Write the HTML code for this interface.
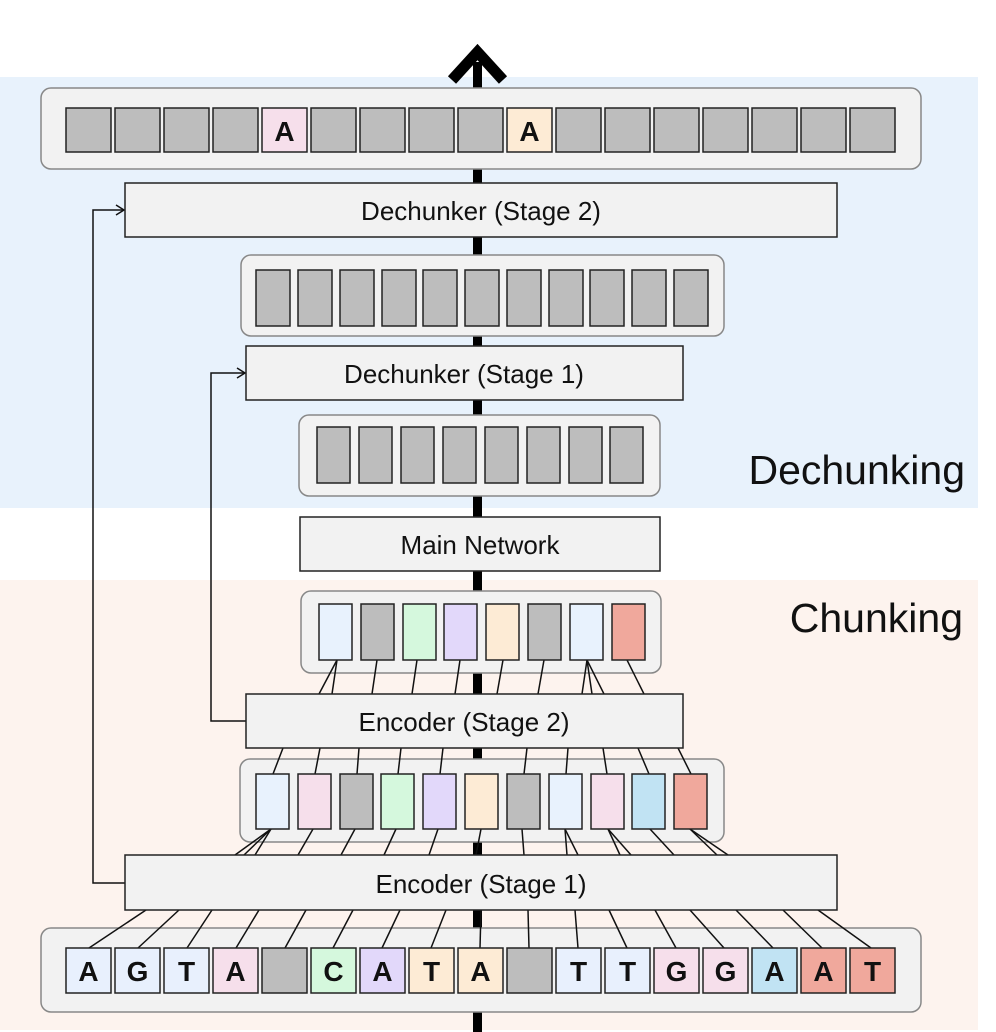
<!DOCTYPE html>
<html><head><style>
html,body{margin:0;padding:0;background:#fff;}
svg{display:block;}
text{font-family:"Liberation Sans","DejaVu Sans",sans-serif;}
</style></head><body>
<svg width="996" height="1032" viewBox="0 0 996 1032" xmlns="http://www.w3.org/2000/svg">
<rect x="0" y="77" width="978" height="431" fill="#e8f2fc"/>
<rect x="0" y="580" width="978" height="450" fill="#fdf3ee"/>
<!-- spine -->
<rect x="473" y="62" width="9" height="970" fill="#000"/>
<polyline points="452,80 477.5,52 503,80" fill="none" stroke="#000" stroke-width="11"/>

<!-- containers -->
<g fill="#f2f2f2" stroke="#888" stroke-width="1.5">
<rect x="41" y="88" width="880" height="81" rx="10"/>
<rect x="241" y="255" width="483" height="81" rx="10"/>
<rect x="299" y="415" width="361" height="81" rx="10"/>
<rect x="301" y="591" width="360" height="82" rx="10"/>
<rect x="240" y="759" width="484" height="83" rx="10"/>
<rect x="41" y="928" width="880" height="84" rx="10"/>
</g>

<g stroke="#111" stroke-width="1.5" fill="none">
<!-- feedback lines -->
<polyline points="125,883 93,883 93,210 123,210"/>
<polyline points="116,205 124,210 116,215"/>
<polyline points="246,721 211,721 211,373 244,373"/>
<polyline points="237,368 245,373 237,378"/>
<!-- bottom cells to encoder1 -->
<line x1="89" y1="948" x2="146" y2="910"/><line x1="138" y1="948" x2="179" y2="910"/>
<line x1="187" y1="948" x2="212" y2="910"/><line x1="236" y1="948" x2="259" y2="910"/>
<line x1="285" y1="948" x2="306" y2="910"/><line x1="333" y1="948" x2="353" y2="910"/>
<line x1="382" y1="948" x2="400" y2="910"/><line x1="431" y1="948" x2="446" y2="910"/>
<line x1="480" y1="948" x2="481" y2="910"/><line x1="529" y1="948" x2="528" y2="910"/>
<line x1="578" y1="948" x2="575" y2="910"/><line x1="627" y1="948" x2="609" y2="910"/>
<line x1="676" y1="948" x2="655" y2="910"/><line x1="724" y1="948" x2="690" y2="910"/>
<line x1="773" y1="948" x2="736" y2="910"/><line x1="822" y1="948" x2="783" y2="910"/>
<line x1="871" y1="948" x2="818" y2="910"/>
<!-- container5 cells to encoder1 top -->
<line x1="271" y1="829" x2="235" y2="855"/><line x1="271" y1="829" x2="244" y2="855"/><line x1="271" y1="829" x2="255" y2="855"/>
<line x1="313" y1="829" x2="298" y2="855"/><line x1="355" y1="829" x2="341" y2="855"/>
<line x1="396" y1="829" x2="384" y2="855"/><line x1="438" y1="829" x2="429" y2="855"/>
<line x1="481" y1="829" x2="476" y2="855"/><line x1="522" y1="829" x2="524" y2="855"/>
<line x1="565" y1="829" x2="567" y2="855"/><line x1="565" y1="829" x2="578" y2="855"/>
<line x1="608" y1="829" x2="620" y2="855"/><line x1="608" y1="829" x2="631" y2="855"/>
<line x1="650" y1="829" x2="674" y2="855"/>
<line x1="690" y1="829" x2="717" y2="855"/><line x1="690" y1="829" x2="728" y2="855"/>
<!-- encoder2 bottom to container5 -->
<line x1="283" y1="748" x2="273" y2="774"/><line x1="320" y1="748" x2="315" y2="774"/>
<line x1="359" y1="748" x2="357" y2="774"/><line x1="401" y1="748" x2="398" y2="774"/>
<line x1="443" y1="748" x2="440" y2="774"/><line x1="527" y1="748" x2="524" y2="774"/>
<line x1="568" y1="748" x2="566" y2="774"/><line x1="603" y1="748" x2="607" y2="774"/>
<line x1="638" y1="748" x2="649" y2="774"/><line x1="678" y1="748" x2="691" y2="774"/>
<!-- container4 to encoder2 top -->
<line x1="337" y1="660" x2="319" y2="694"/><line x1="337" y1="660" x2="332" y2="694"/>
<line x1="377" y1="660" x2="372" y2="694"/><line x1="417" y1="660" x2="412" y2="694"/>
<line x1="460" y1="660" x2="455" y2="694"/><line x1="503" y1="660" x2="497" y2="694"/>
<line x1="544" y1="660" x2="538" y2="694"/>
<line x1="587" y1="660" x2="582" y2="694"/><line x1="587" y1="660" x2="592" y2="694"/><line x1="587" y1="660" x2="604" y2="694"/>
<line x1="627" y1="660" x2="644" y2="694"/>
</g>

<!-- boxes -->
<g fill="#f2f2f2" stroke="#222" stroke-width="1.5">
<rect x="125" y="183" width="712" height="54"/>
<rect x="246" y="346" width="437" height="54"/>
<rect x="300" y="517" width="360" height="54"/>
<rect x="246" y="694" width="437" height="54"/>
<rect x="125" y="855" width="712" height="55"/>
</g>
<g font-size="26" text-anchor="middle" fill="#111">
<text x="481" y="220">Dechunker (Stage 2)</text>
<text x="464" y="383">Dechunker (Stage 1)</text>
<text x="480" y="554">Main Network</text>
<text x="464" y="731">Encoder (Stage 2)</text>
<text x="481" y="893">Encoder (Stage 1)</text>
</g>
<text x="965" y="484" font-size="41" text-anchor="end" fill="#111">Dechunking</text>
<text x="963" y="632" font-size="41" text-anchor="end" fill="#111">Chunking</text>

<g stroke="#222" stroke-width="1.5">
<!-- top row -->
<rect x="66" y="108" width="45" height="44" fill="#bdbdbd"/>
<rect x="115" y="108" width="45" height="44" fill="#bdbdbd"/>
<rect x="164" y="108" width="45" height="44" fill="#bdbdbd"/>
<rect x="213" y="108" width="45" height="44" fill="#bdbdbd"/>
<rect x="262" y="108" width="45" height="44" fill="#f6dfeb"/>
<rect x="311" y="108" width="45" height="44" fill="#bdbdbd"/>
<rect x="360" y="108" width="45" height="44" fill="#bdbdbd"/>
<rect x="409" y="108" width="45" height="44" fill="#bdbdbd"/>
<rect x="458" y="108" width="45" height="44" fill="#bdbdbd"/>
<rect x="507" y="108" width="45" height="44" fill="#fdebd5"/>
<rect x="556" y="108" width="45" height="44" fill="#bdbdbd"/>
<rect x="605" y="108" width="45" height="44" fill="#bdbdbd"/>
<rect x="654" y="108" width="45" height="44" fill="#bdbdbd"/>
<rect x="703" y="108" width="45" height="44" fill="#bdbdbd"/>
<rect x="752" y="108" width="45" height="44" fill="#bdbdbd"/>
<rect x="801" y="108" width="45" height="44" fill="#bdbdbd"/>
<rect x="850" y="108" width="45" height="44" fill="#bdbdbd"/>
<!-- container2 -->
<rect x="256" y="270" width="34" height="56" fill="#bdbdbd"/>
<rect x="298" y="270" width="34" height="56" fill="#bdbdbd"/>
<rect x="340" y="270" width="34" height="56" fill="#bdbdbd"/>
<rect x="382" y="270" width="34" height="56" fill="#bdbdbd"/>
<rect x="423" y="270" width="34" height="56" fill="#bdbdbd"/>
<rect x="465" y="270" width="34" height="56" fill="#bdbdbd"/>
<rect x="507" y="270" width="34" height="56" fill="#bdbdbd"/>
<rect x="549" y="270" width="34" height="56" fill="#bdbdbd"/>
<rect x="590" y="270" width="34" height="56" fill="#bdbdbd"/>
<rect x="632" y="270" width="34" height="56" fill="#bdbdbd"/>
<rect x="674" y="270" width="34" height="56" fill="#bdbdbd"/>
<!-- container3 -->
<rect x="317" y="427" width="33" height="56" fill="#bdbdbd"/>
<rect x="359" y="427" width="33" height="56" fill="#bdbdbd"/>
<rect x="401" y="427" width="33" height="56" fill="#bdbdbd"/>
<rect x="443" y="427" width="33" height="56" fill="#bdbdbd"/>
<rect x="485" y="427" width="33" height="56" fill="#bdbdbd"/>
<rect x="527" y="427" width="33" height="56" fill="#bdbdbd"/>
<rect x="569" y="427" width="33" height="56" fill="#bdbdbd"/>
<rect x="610" y="427" width="33" height="56" fill="#bdbdbd"/>
<!-- container4 -->
<rect x="319" y="604" width="33" height="56" fill="#e8f2fd"/>
<rect x="361" y="604" width="33" height="56" fill="#bdbdbd"/>
<rect x="403" y="604" width="33" height="56" fill="#d5f8dd"/>
<rect x="444" y="604" width="33" height="56" fill="#e2d8fa"/>
<rect x="486" y="604" width="33" height="56" fill="#fdebd5"/>
<rect x="528" y="604" width="33" height="56" fill="#bdbdbd"/>
<rect x="570" y="604" width="33" height="56" fill="#e8f2fd"/>
<rect x="612" y="604" width="33" height="56" fill="#f0a89c"/>
<!-- container5 -->
<rect x="256" y="774" width="33" height="55" fill="#e8f2fd"/>
<rect x="298" y="774" width="33" height="55" fill="#f6dfeb"/>
<rect x="340" y="774" width="33" height="55" fill="#bdbdbd"/>
<rect x="381" y="774" width="33" height="55" fill="#d5f8dd"/>
<rect x="423" y="774" width="33" height="55" fill="#e2d8fa"/>
<rect x="465" y="774" width="33" height="55" fill="#fdebd5"/>
<rect x="507" y="774" width="33" height="55" fill="#bdbdbd"/>
<rect x="549" y="774" width="33" height="55" fill="#e8f2fd"/>
<rect x="591" y="774" width="33" height="55" fill="#f6dfeb"/>
<rect x="632" y="774" width="33" height="55" fill="#c1e3f3"/>
<rect x="674" y="774" width="33" height="55" fill="#f0a89c"/>
<!-- bottom row -->
<rect x="66" y="948" width="45" height="45" fill="#e8f0fd"/>
<rect x="115" y="948" width="45" height="45" fill="#e8f0fd"/>
<rect x="164" y="948" width="45" height="45" fill="#e8f0fd"/>
<rect x="213" y="948" width="45" height="45" fill="#f6dfeb"/>
<rect x="262" y="948" width="45" height="45" fill="#bdbdbd"/>
<rect x="311" y="948" width="45" height="45" fill="#d5f8dd"/>
<rect x="360" y="948" width="45" height="45" fill="#e2d8fa"/>
<rect x="409" y="948" width="45" height="45" fill="#fdebd5"/>
<rect x="458" y="948" width="45" height="45" fill="#fdebd5"/>
<rect x="507" y="948" width="45" height="45" fill="#bdbdbd"/>
<rect x="556" y="948" width="45" height="45" fill="#e8f0fd"/>
<rect x="605" y="948" width="45" height="45" fill="#e8f0fd"/>
<rect x="654" y="948" width="45" height="45" fill="#f6dfeb"/>
<rect x="703" y="948" width="45" height="45" fill="#f6dfeb"/>
<rect x="752" y="948" width="45" height="45" fill="#c1e3f3"/>
<rect x="801" y="948" width="45" height="45" fill="#f0a89c"/>
<rect x="850" y="948" width="45" height="45" fill="#f0a89c"/>
</g>
<g font-size="28" font-weight="bold" text-anchor="middle" fill="#111">
<text x="284.5" y="141">A</text>
<text x="529.5" y="141">A</text>
<text x="88.5" y="981">A</text>
<text x="137.5" y="981">G</text>
<text x="186.5" y="981">T</text>
<text x="235.5" y="981">A</text>
<text x="333.5" y="981">C</text>
<text x="382.5" y="981">A</text>
<text x="431.5" y="981">T</text>
<text x="480.5" y="981">A</text>
<text x="578.5" y="981">T</text>
<text x="627.5" y="981">T</text>
<text x="676.5" y="981">G</text>
<text x="725.5" y="981">G</text>
<text x="774.5" y="981">A</text>
<text x="823.5" y="981">A</text>
<text x="872.5" y="981">T</text>
</g>
</svg>
</body></html>
